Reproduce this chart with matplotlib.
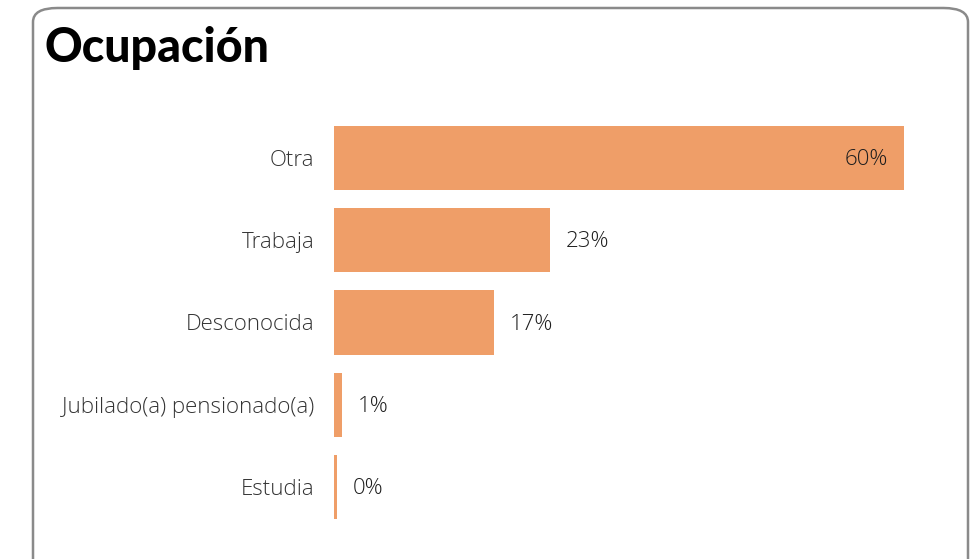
import matplotlib.pyplot as plt
from matplotlib.patches import FancyBboxPatch

# Data
categories = ["Otra", "Trabaja", "Desconocida", "Jubilado(a) pensionado(a)", "Estudia"]
values = [59.9, 22.7, 16.8, 0.8, 0.3]
title = "Ocupación"

bar_color = "#EF9E68"
W, H = 980, 559
label_font = ["Open Sans", "DejaVu Sans"]

fig = plt.figure(figsize=(W / 100, H / 100), dpi=100)

# Rounded card border
card = FancyBboxPatch((33 / W, -30 / H), (968 - 33) / W, (H - 8 + 30) / H,
                      boxstyle="round,pad=0,rounding_size=0.025",
                      transform=fig.transFigure, facecolor="white",
                      edgecolor="#8a8a8a", linewidth=1.8, zorder=-5)
fig.patches.append(card)

fig.text(44 / W, 1 - 48 / H, title, fontsize=33.5, fontweight="black",
         family=["Lato", "DejaVu Sans"], color="black", va="center", ha="left")

# Axes placed in pixels
left, right, top, bottom = 334, 905, 117, 528
ax = fig.add_axes([left / W, 1 - bottom / H, (right - left) / W, (bottom - top) / H])
ax.set_facecolor("none")
ax.set_zorder(2)

ypos = list(range(len(categories)))
ax.barh(ypos, values, height=0.78, color=bar_color)
ax.set_xlim(0, 60)
ax.set_ylim(len(categories) - 0.5, -0.5)

for y, v in zip(ypos, values):
    txt = f"{round(v):.0f}%"
    if v > 50:
        ax.text(v - 1.7, y + 0.02, txt, ha="right", va="center", fontsize=16,
                family=label_font, fontweight="light", color="#1e1e1e")
    else:
        ax.text(v + 1.7, y + 0.02, txt, ha="left", va="center", fontsize=16,
                family=label_font, fontweight="light", color="#1e1e1e")

ax.set_yticks(ypos)
ax.set_yticklabels(categories, fontsize=16, family=label_font,
                   fontweight="light", color="#333333")
ax.tick_params(axis="y", length=0, pad=14)
ax.set_xticks([])
for s in ax.spines.values():
    s.set_visible(False)

fig.savefig("out.png", dpi=100)
